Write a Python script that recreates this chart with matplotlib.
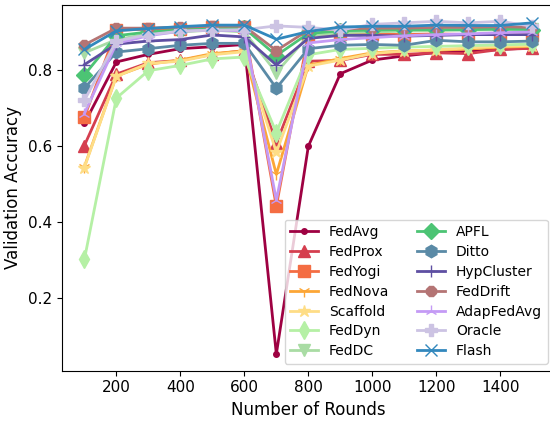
import numpy as np
import matplotlib
matplotlib.use("Agg")
import matplotlib.pyplot as plt

# communication rounds
rounds = [100, 200, 300, 400, 500, 600, 700, 800, 900, 1000, 1100, 1200, 1300, 1400, 1500]

# validation accuracy per method
fedavg     = [0.659, 0.821, 0.841, 0.856, 0.861, 0.867, 0.052, 0.599, 0.790, 0.826, 0.837, 0.846, 0.848, 0.854, 0.858]
fedprox    = [0.601, 0.789, 0.819, 0.825, 0.841, 0.851, 0.607, 0.823, 0.825, 0.841, 0.841, 0.845, 0.843, 0.854, 0.857]
fedyogi    = [0.675, 0.905, 0.907, 0.908, 0.912, 0.912, 0.441, 0.893, 0.895, 0.895, 0.893, 0.895, 0.893, 0.895, 0.893]
fednova    = [0.545, 0.784, 0.815, 0.826, 0.843, 0.850, 0.525, 0.812, 0.830, 0.845, 0.850, 0.852, 0.855, 0.860, 0.862]
scaffold   = [0.543, 0.783, 0.817, 0.823, 0.840, 0.848, 0.583, 0.810, 0.826, 0.843, 0.850, 0.853, 0.858, 0.862, 0.864]
feddyn     = [0.301, 0.726, 0.798, 0.812, 0.829, 0.834, 0.635, 0.840, 0.854, 0.857, 0.860, 0.862, 0.864, 0.866, 0.868]
feddc      = [0.845, 0.880, 0.895, 0.900, 0.905, 0.900, 0.793, 0.890, 0.898, 0.900, 0.902, 0.904, 0.905, 0.906, 0.907]
apfl       = [0.787, 0.890, 0.900, 0.905, 0.908, 0.910, 0.838, 0.896, 0.903, 0.905, 0.906, 0.906, 0.906, 0.908, 0.906]
ditto      = [0.752, 0.847, 0.856, 0.865, 0.870, 0.870, 0.752, 0.856, 0.865, 0.867, 0.865, 0.878, 0.874, 0.874, 0.876]
hypcluster = [0.814, 0.868, 0.876, 0.880, 0.892, 0.887, 0.813, 0.883, 0.891, 0.891, 0.889, 0.891, 0.893, 0.893, 0.893]
feddrift   = [0.866, 0.910, 0.910, 0.913, 0.916, 0.915, 0.851, 0.905, 0.908, 0.910, 0.910, 0.912, 0.912, 0.914, 0.912]
adapfedavg = [0.685, 0.870, 0.890, 0.902, 0.905, 0.903, 0.457, 0.871, 0.880, 0.885, 0.890, 0.893, 0.895, 0.898, 0.900]
oracle     = [0.720, 0.876, 0.893, 0.902, 0.905, 0.906, 0.916, 0.912, 0.905, 0.920, 0.924, 0.928, 0.924, 0.928, 0.915]
flash      = [0.854, 0.903, 0.909, 0.914, 0.918, 0.918, 0.881, 0.901, 0.913, 0.915, 0.915, 0.918, 0.917, 0.917, 0.924]

methods = ['FedAvg', 'FedProx', 'FedYogi', 'FedNova', 'Scaffold', 'FedDyn', 'FedDC',
           'APFL', 'Ditto', 'HypCluster', 'FedDrift', 'AdapFedAvg', 'Oracle', 'Flash']
accs = [fedavg, fedprox, fedyogi, fednova, scaffold, feddyn, feddc,
        apfl, ditto, hypcluster, feddrift, adapfedavg, oracle, flash]

colors = ['#9e0142', '#d53e4f', '#f46d43', '#fca636', '#fedd86', '#b5f0a5', '#a9dca4',
          '#4cc474', '#5a8aa6', '#5e4fa2', '#b47474', '#c49af5', '#ccc3e3', '#3288bd']
markers = ['o', '^', 's', '1', '*', 'd', 'v', 'D', 'h', '+', '8', '2', 'P', 'x']
msizes = [4, 9, 9, 9, 9, 9, 9, 8, 9, 9, 8, 9, 9, 9]

fig = plt.figure(figsize=(5.5, 4.22), dpi=100)
ax = fig.add_axes([0.1127, 0.1216, 0.8958, 0.8673])

for name, acc, c, m, s in zip(methods, accs, colors, markers, msizes):
    ax.plot(rounds, acc, label=name, color=c, marker=m, markersize=s, linewidth=2)

ax.set_xticks([200, 400, 600, 800, 1000, 1200, 1400])
ax.set_yticks([0.2, 0.4, 0.6, 0.8])
ax.tick_params(labelsize=11)
ax.set_xlabel('Number of Rounds', fontsize=12)
ax.set_ylabel('Validation Accuracy', fontsize=12)

ax.legend(ncol=2, loc='lower right', fontsize=10, labelspacing=0.42)

fig.savefig('out.png', dpi=100)
